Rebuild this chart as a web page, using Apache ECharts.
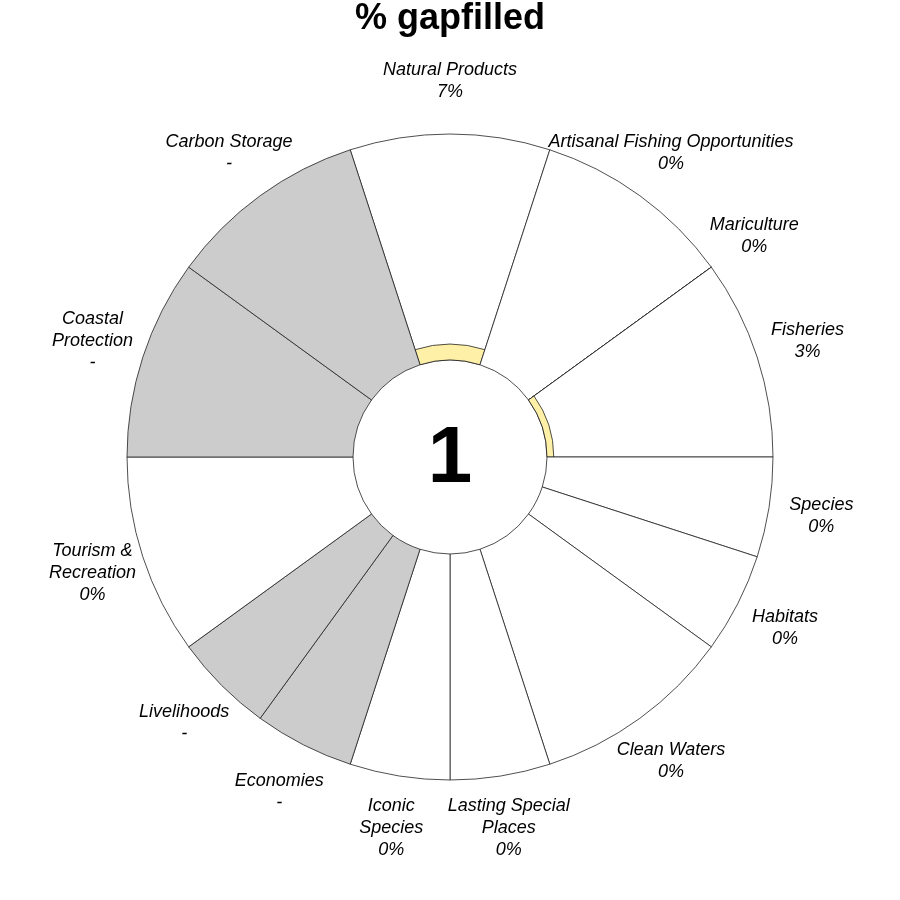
<!DOCTYPE html>
<html>
<head>
<meta charset="utf-8">
<script src="https://cdn.jsdelivr.net/npm/echarts@6/dist/echarts.min.js"></script>
<style>html,body{margin:0;padding:0;background:#fff}#c{width:900px;height:900px}</style>
</head>
<body>
<div id="c"></div>
<script>
// Goals in clockwise order, starting at the top
const goals = ['Natural Products', 'Artisanal Fishing Opportunities', 'Mariculture', 'Fisheries',
  'Species', 'Habitats', 'Clean Waters', 'Lasting Special Places', 'Iconic Species',
  'Economies', 'Livelihoods', 'Tourism & Recreation', 'Coastal Protection', 'Carbon Storage'];
const goalLabels = ['Natural Products', 'Artisanal Fishing Opportunities', 'Mariculture', 'Fisheries',
  'Species', 'Habitats', 'Clean Waters', 'Lasting Special\nPlaces', 'Iconic\nSpecies',
  'Economies', 'Livelihoods', 'Tourism &\nRecreation', 'Coastal\nProtection', 'Carbon Storage'];
// Relative petal widths
const weights = [1, 1, 0, 1, 0.5, 0.5, 1, 0.5, 0.5, 0.5, 0.5, 1, 1, 1];
// % gapfilled (null = not applicable, shown as "-")
const gapfilled = [7, 0, 0, 3, 0, 0, 0, 0, 0, null, null, 0, null, null];
const centerScore = '1';
const titleText = '% gapfilled';

const totalW = weights.reduce((a, b) => a + b, 0);
let acc = 0;
const petals = weights.map((w, i) => {
  const s = acc / totalW * 360;
  acc += w;
  const e = acc / totalW * 360;
  return [s, e, i];
});

const chart = echarts.init(document.getElementById('c'), null, {renderer: 'canvas'});
const FONT = '"Liberation Sans", Arial, Helvetica, sans-serif';

function renderItem(params, api) {
  const cs = params.coordSys;
  const cx = cs.cx, cy = cs.cy;
  const i = api.value(2);
  const a0 = api.value(0), a1 = api.value(1);
  function polar(rv, av) {
    const p = api.coord([rv, av]);
    const dx = p[0] - cx, dy = p[1] - cy;
    return {r: Math.sqrt(dx * dx + dy * dy), t: Math.atan2(dy, dx), x: p[0], y: p[1]};
  }
  const base = polar(0, a0);
  const full = polar(100, a0);
  let t0 = base.t;
  let t1 = polar(100, a1).t;
  if (a1 - a0 <= 0) { t1 = t0; }
  else { while (t1 <= t0) t1 += Math.PI * 2; }
  const v = gapfilled[i];
  const stroke = '#222222';
  const children = [{
    type: 'sector',
    shape: {cx: cx, cy: cy, r0: base.r, r: full.r, startAngle: t0, endAngle: t1, clockwise: true},
    style: {fill: v == null ? '#cccccc' : '#ffffff', stroke: stroke, lineWidth: 0.8}
  }];
  if (v != null && v > 0) {
    const vr = polar(v, a0).r;
    children.push({
      type: 'sector',
      shape: {cx: cx, cy: cy, r0: base.r, r: vr, startAngle: t0, endAngle: t1, clockwise: true},
      style: {fill: '#fff0a8', stroke: stroke, lineWidth: 0.8}
    });
  }
  const mid = polar(100, (a0 + a1) / 2);
  const lr = full.r + 53;
  children.push({
    type: 'text',
    x: cx + lr * Math.cos(mid.t),
    y: cy + lr * Math.sin(mid.t),
    style: {
      text: goalLabels[i] + '\n' + (v == null ? '-' : v + '%'),
      align: 'center', verticalAlign: 'middle',
      font: 'italic 18px ' + FONT, lineHeight: 22, fill: '#000'
    }
  });
  return {type: 'group', children: children};
}

chart.setOption({
  backgroundColor: '#ffffff',
  animation: false,
  title: {
    text: titleText, left: 'center', top: 1, padding: 0,
    textStyle: {fontFamily: FONT, fontSize: 36, fontWeight: 'bold', color: '#000'}
  },
  polar: {center: [450, 457], radius: [97, 323]},
  angleAxis: {
    type: 'value', min: 0, max: 360, startAngle: 108, clockwise: true,
    axisLine: {show: false}, axisTick: {show: false}, axisLabel: {show: false}, splitLine: {show: false}
  },
  radiusAxis: {
    type: 'value', min: 0, max: 100,
    axisLine: {show: false}, axisTick: {show: false}, axisLabel: {show: false}, splitLine: {show: false}
  },
  graphic: [{
    type: 'text', x: 450, y: 460,
    style: {text: centerScore, align: 'center', verticalAlign: 'middle',
      font: 'bold 80px ' + FONT, fill: '#000'}
  }],
  series: [{
    type: 'custom',
    coordinateSystem: 'polar',
    renderItem: renderItem,
    encode: {angle: 0, radius: 2},
    data: petals
  }]
});
</script>
</body>
</html>
